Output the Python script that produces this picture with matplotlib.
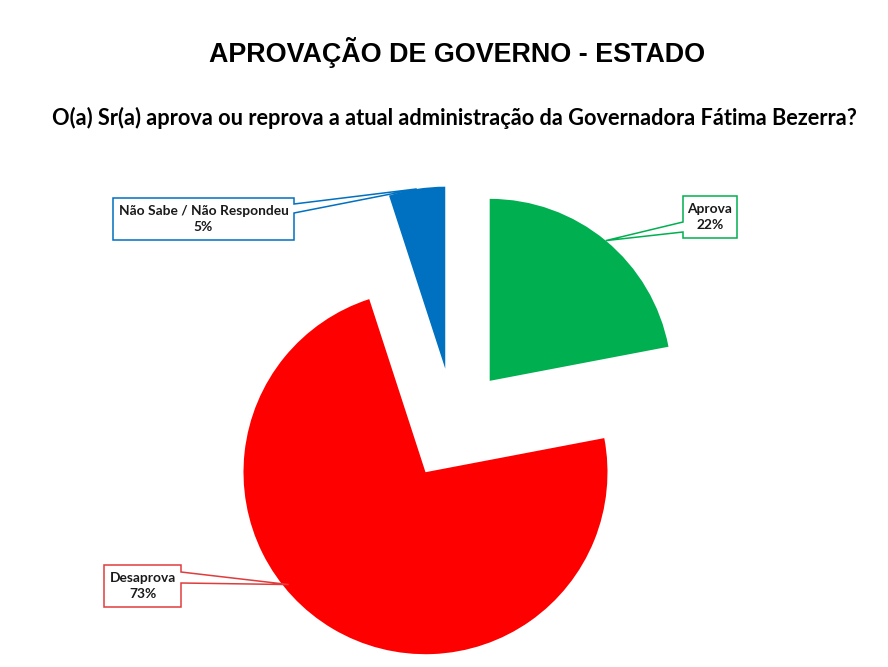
import numpy as np
import matplotlib.pyplot as plt
from matplotlib.patches import Polygon

# data
categories = ['Aprova', 'Desaprova', 'Não Sabe / Não Respondeu']
values = [22, 73, 5]
labels = ['22%', '73%', '5%']
colors = ['#00B050', '#FF0000', '#0070C0']
edge_colors = ['#00B050', '#E03C3C', '#0070C0']

W, H = 888, 667
fig = plt.figure(figsize=(W / 100, H / 100), dpi=100)
ax = fig.add_axes([0, 0, 1, 1])

wedges, _ = ax.pie(values, colors=colors, startangle=90, counterclock=False,
                   explode=[56] * 3, radius=182, center=(454, H - 424),
                   wedgeprops=dict(linewidth=0))
ax.set_xlim(0, W)
ax.set_ylim(0, H)
ax.set_aspect('equal')
ax.axis('off')

fig.text(457 / W, 1 - 53 / H, 'APROVAÇÃO DE GOVERNO - ESTADO', ha='center', va='center',
         fontsize=19.4, fontweight='bold', family='Liberation Sans')
fig.text(454 / W, 1 - 118 / H,
         'O(a) Sr(a) aprova ou reprova a atual administração da Governadora Fátima Bezerra?',
         ha='center', va='center', fontsize=15.7, fontweight='bold', family='Lato')

# callout boxes: (left, top, right, bottom) in pixels, side the pointer leaves from,
# pointer base (y1, y2) on that side, angle offset from mid-angle for the tip
boxes = [
    ((683, 196, 737, 238), 'left', (222, 232), 0, 0),
    ((104, 565, 181, 607), 'right', (572, 583), -20, -5),
    ((113, 198, 294, 240), 'right', (204, 213), 0, 0),
]

for w, cat, lab, ec, (box, side, base, dang, dr) in zip(wedges, categories, labels, edge_colors, boxes):
    ang = np.deg2rad((w.theta1 + w.theta2) / 2 + dang)
    cx, cy = w.center
    tx = cx + (w.r + dr) * np.cos(ang)
    ty = cy + (w.r + dr) * np.sin(ang)
    l, t, r, b = box
    t, b = H - t, H - b
    y1, y2 = H - base[0], H - base[1]
    if side == 'right':
        pts = [(l, t), (r, t), (r, y1), (tx, ty), (r, y2), (r, b), (l, b)]
    else:
        pts = [(l, t), (r, t), (r, b), (l, b), (l, y2), (tx, ty), (l, y1)]
    ax.add_patch(Polygon(pts, closed=True, facecolor='white', edgecolor=ec, linewidth=1.1, zorder=3))
    ax.text((l + r) / 2, (t + b) / 2, cat + '\n' + lab, ha='center', va='center',
            fontsize=9.9, fontweight='bold', family='Lato', color='#1a1a1a',
            linespacing=1.45, zorder=4)

fig.savefig('out.png', dpi=100)
